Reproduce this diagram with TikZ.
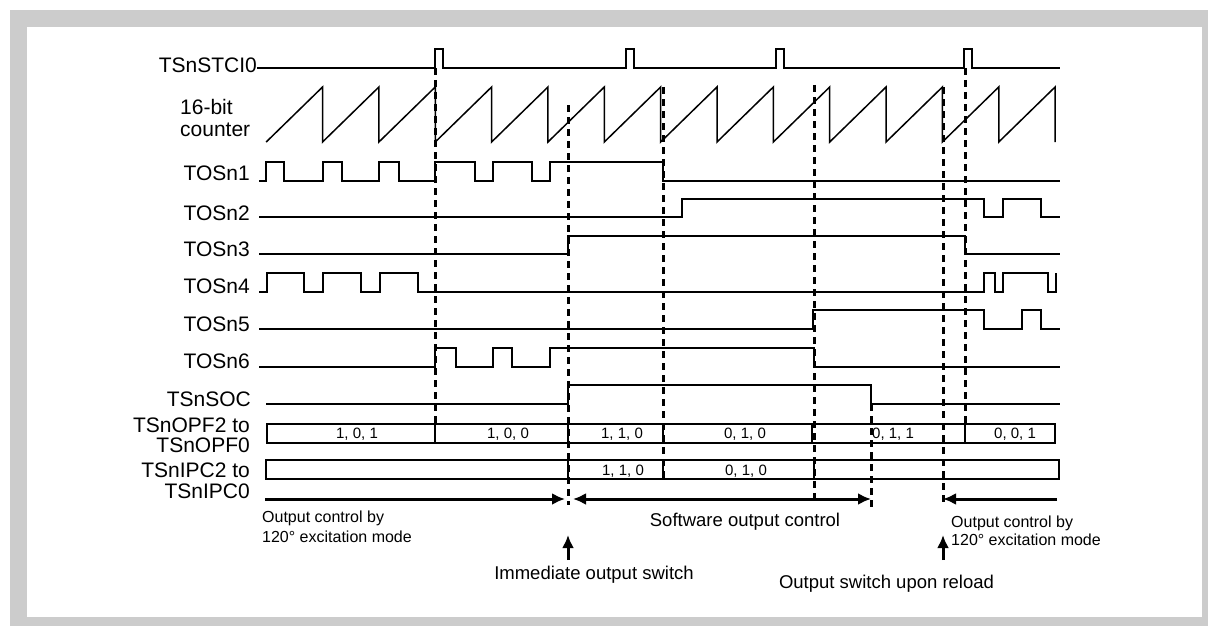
\documentclass[tikz,border=0pt]{standalone}
\usepackage{fontspec}
\setmainfont{Liberation Sans}
\usetikzlibrary{arrows.meta}

\begin{document}
\begin{tikzpicture}[
    x=1pt, y=-1pt,
    sig/.style={line width=1.5pt},
    cell/.style={line width=1.5pt},
    guide/.style={line width=3pt, dash pattern=on 7pt off 5pt},
    lbl/.style={inner sep=0pt, anchor=east, align=right, font=\fontsize{21}{20}\selectfont},
    val/.style={inner sep=0pt, font=\fontsize{15}{18}\selectfont},
    note/.style={inner sep=0pt, font=\fontsize{18.5}{20}\selectfont},
    mode/.style={inner sep=0pt, anchor=west, align=left, font=\fontsize{16}{20}\selectfont},
    span/.style={line width=3pt, -{Latex[length=13pt, width=12pt]}},
    twoway/.style={line width=3pt, {Latex[length=13pt, width=12pt]}-{Latex[length=13pt, width=12pt]}}
]
\useasboundingbox (0,0) rectangle (1208,626);
\fill[gray!40] (10,10) rectangle (1208,626);
\fill[white] (27,27) rectangle (1202,617);

% signal names
\node[lbl] (stci) at (257,65.5) {TSnSTCI0};
\node[lbl, anchor=west, align=left, font=\fontsize{21}{22}\selectfont] (cnt) at (180,118.4) {16-bit\\counter};
\node[lbl] (tos1) at (250,173) {TOSn1};
\node[lbl] (tos2) at (250,213) {TOSn2};
\node[lbl] (tos3) at (250,249.5) {TOSn3};
\node[lbl] (tos4) at (250,286.5) {TOSn4};
\node[lbl] (tos5) at (250,324.5) {TOSn5};
\node[lbl] (tos6) at (250,361.5) {TOSn6};
\node[lbl] (soc) at (251,399.5) {TSnSOC};
\node[lbl] (opf) at (250,435) {TSnOPF2 to\\TSnOPF0};
\node[lbl, font=\fontsize{21}{21}\selectfont] (ipc) at (250,480.5) {TSnIPC2 to\\TSnIPC0};

% waveforms
\draw[sig] (257,68) foreach \p in {435,626,776,964} { -- (\p,68) -- (\p,49) -- (\p+8,49) -- (\p+8,68) } -- (1060,68);
\draw[sig] (266.2,142) foreach \k in {1,...,14} { -- (266.2+56.35*\k,87) -- (266.2+56.35*\k,142) };
\draw[sig] (259,181) -| (266,162) -| (284,181) -| (323,162) -| (342,181) -| (379,162) -| (399,181)
    -| (435,162) -| (475,181) -| (493,162) -| (532,181) -| (550,162) -| (663,181) -- (1060,181);
\draw[sig] (259,217) -| (682,199) -| (984,217) -| (1003,199) -| (1041,217) -- (1060,217);
\draw[sig] (259,254) -| (568,236) -| (965,254) -- (1060,254);
\draw[sig] (259,292) -| (267,273) -| (304,292) -| (323,273) -| (361,292) -| (380,273) -| (418,292)
    -| (984,273) -| (995,292) -| (1003,273) -| (1048,292) -| (1056,273);
\draw[sig] (259,329) -| (813,310) -| (984,329) -| (1022,310) -| (1041,329) -- (1060,329);
\draw[sig] (259,367) -| (435,348) -| (456,367) -| (493,348) -| (512,367) -| (550,348) -| (814,367) -- (1060,367);
\draw[sig] (266,404) -| (568,385) -| (871,404) -- (1060,404);

% flag rows
\draw[cell] (267,424) rectangle (1055,443);
\foreach \x in {435,568,663,812,965}
    \draw[cell] (\x,424) -- (\x,443);
\draw[cell] (266,460) rectangle (1059,479);
\foreach \x in {568,663,814}
    \draw[cell] (\x,460) -- (\x,479);
\node[val] (opfA) at (357,434) {1, 0, 1};
\node[val] (opfB) at (508,434) {1, 0, 0};
\node[val] (opfC) at (622,434) {1, 1, 0};
\node[val] (opfD) at (745,434) {0, 1, 0};
\node[val] (opfE) at (893,434) {0, 1, 1};
\node[val] (opfF) at (1015,434) {0, 0, 1};
\node[val] (ipcC) at (623,471) {1, 1, 0};
\node[val] (ipcD) at (746,471) {0, 1, 0};

% timing marks
\foreach \x/\a/\b in {435/68/424, 568/105/505, 663/87/479, 814/85/498, 871/404/510, 943/87/505, 965/68/424}
    \draw[guide] (\x,\a) -- (\x,\b);

% control spans
\coordinate (modeL0) at (265,499);
\coordinate (modeL1) at (565,499);
\coordinate (softA) at (573,499);
\coordinate (softB) at (871,499);
\coordinate (modeR1) at (943,499);
\coordinate (modeR0) at (1057,499);
\draw[span] (modeL0) -- (modeL1);
\draw[twoway] (softA) -- (softB);
\draw[span] (modeR0) -- (modeR1);

\node[mode] (modeL) at (262,527) {Output control by\\120° excitation mode};
\node[note] (soft) at (745,522) {Software output control};
\node[mode, font=\fontsize{16}{18}\selectfont] (modeR) at (951,530.5) {Output control by\\120° excitation mode};

% switch points
\coordinate (immA) at (568,560);
\coordinate (immB) at (568,535);
\coordinate (relA) at (943,560);
\coordinate (relB) at (943,535);
\draw[span] (immA) -- (immB);
\draw[span] (relA) -- (relB);
\node[note] (immed) at (594,575) {Immediate output switch};
\node[note] (reload) at (886.5,584) {Output switch upon reload};
\end{tikzpicture}
\end{document}
